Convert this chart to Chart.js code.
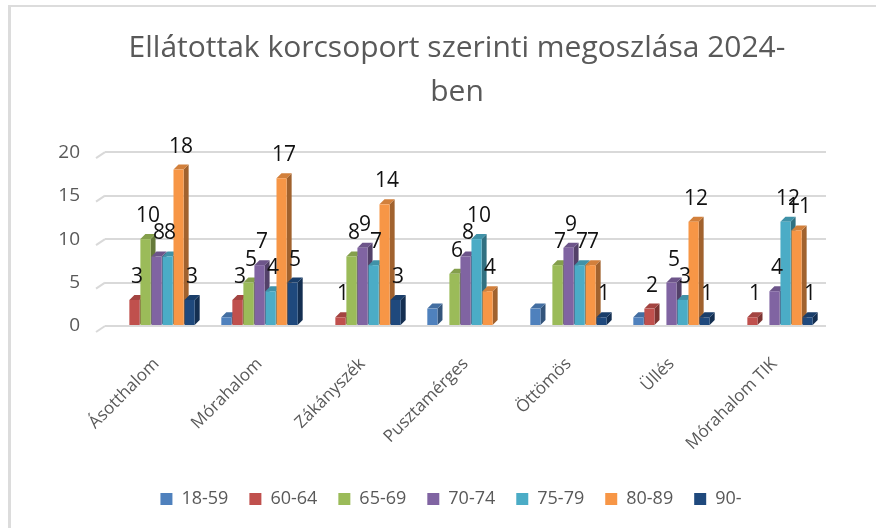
<!DOCTYPE html>
<html><head><meta charset="utf-8">
<script src="https://cdn.jsdelivr.net/npm/chart.js@4/dist/chart.umd.min.js"></script>
<style>
html,body{margin:0;padding:0;background:#fff;}
#wrap{position:relative;width:876px;height:528px;overflow:hidden;}
canvas{position:absolute;left:0;top:0;}
#frameTop{position:absolute;left:8px;top:5px;width:868px;height:2px;background:#dcdcdc;}
#frameLeft{position:absolute;left:8px;top:5px;width:3px;height:523px;background:#dcdcdc;}
</style></head><body>
<div id="wrap"><canvas id="c" width="876" height="528"></canvas><div id="frameTop"></div><div id="frameLeft"></div></div>
<script>
const categories = ['Ásotthalom','Mórahalom','Zákányszék','Pusztamérges','Öttömös','Üllés','Mórahalom TIK'];
const seriesNames = ['18-59','60-64','65-69','70-74','75-79','80-89','90-'];
const s18_59 = [0,1,0,2,2,1,0];
const s60_64 = [3,3,1,0,0,2,1];
const s65_69 = [10,5,8,6,7,0,0];
const s70_74 = [8,7,9,8,9,5,4];
const s75_79 = [8,4,7,10,7,3,12];
const s80_89 = [18,17,14,4,7,12,11];
const s90 = [3,5,3,0,1,1,1];
const yTicks = [0,5,10,15,20];
const labeledSeries = ['60-64','65-69','70-74','75-79','80-89','90-'];

const seriesValues = [s18_59,s60_64,s65_69,s70_74,s75_79,s80_89,s90];
const colors = ['#4F81BD','#C0504D','#9BBB59','#8064A2','#4BACC6','#F79646','#1F497D'];

function shade(hex, f){
  const n = parseInt(hex.slice(1),16);
  let r=(n>>16)&255,g=(n>>8)&255,b=n&255;
  const t = f<0?0:255, p=Math.abs(f);
  r=Math.round((t-r)*p+r); g=Math.round((t-g)*p+g); b=Math.round((t-b)*p+b);
  return 'rgb('+r+','+g+','+b+')';
}

const DEP = 5;
const bar3d = {
  id:'bar3d',
  afterLayout(chart){
    if (chart.titleBlock){ chart.titleBlock.left = 88; chart.titleBlock.right = 826; }
    if (chart.legend){ chart.legend.left = 76; chart.legend.right = 826; }
  },
  beforeDatasetsDraw(chart){
    const ctx = chart.ctx, area = chart.chartArea, ys = chart.scales.y;
    ctx.save();
    ctx.strokeStyle = '#d9d9d9'; ctx.lineWidth = 2;
    yTicks.forEach(t=>{
      const yy = ys.getPixelForValue(t);
      ctx.beginPath(); ctx.moveTo(area.left, yy); ctx.lineTo(area.left-9, yy+6); ctx.stroke();
    });
    const metas = chart.data.datasets.map((d,i)=>chart.getDatasetMeta(i));
    for (let c=0;c<chart.data.labels.length;c++){
      for (let d=0; d<metas.length; d++){
        const v = chart.data.datasets[d].data[c];
        if (!v) continue;
        const el = metas[d].data[c];
        const p = el.getProps(['x','y','base','width'], true);
        const L = p.x - p.width/2, R = p.x + p.width/2, y = p.y, base = p.base;
        const col = chart.data.datasets[d].backgroundColor;
        ctx.fillStyle = shade(col,-0.35);
        ctx.beginPath(); ctx.moveTo(R,y); ctx.lineTo(R+DEP,y-DEP); ctx.lineTo(R+DEP,base-DEP); ctx.lineTo(R,base); ctx.closePath(); ctx.fill();
        ctx.fillStyle = shade(col,-0.15);
        ctx.beginPath(); ctx.moveTo(L,y); ctx.lineTo(L+DEP,y-DEP); ctx.lineTo(R+DEP,y-DEP); ctx.lineTo(R,y); ctx.closePath(); ctx.fill();
        ctx.fillStyle = col;
        ctx.fillRect(L, y, p.width, base-y);
      }
    }
    ctx.restore();
    return false;
  },
  afterDraw(chart){
    const ctx = chart.ctx;
    ctx.save();
    ctx.fillStyle = '#111';
    ctx.font = '21px "Open Sans"';
    ctx.textAlign = 'center'; ctx.textBaseline = 'middle';
    chart.data.datasets.forEach((ds,d)=>{
      if (!labeledSeries.includes(ds.label)) return;
      const meta = chart.getDatasetMeta(d);
      ds.data.forEach((v,c)=>{
        if (!v) return;
        const el = meta.data[c];
        ctx.fillText(String(v), el.x + DEP/2, el.y - 23);
      });
    });
    ctx.restore();
  }
};

new Chart(document.getElementById('c'), {
  type:'bar',
  data:{
    labels: categories,
    datasets: seriesNames.map((n,i)=>({label:n, data:seriesValues[i], backgroundColor:colors[i], borderWidth:0}))
  },
  options:{
    responsive:false, animation:false,
    datasets:{bar:{categoryPercentage:0.75, barPercentage:0.92}},
    layout:{padding:{left:0,right:50,top:0,bottom:10}},
    plugins:{
      title:{display:true, text:['Ellátottak korcsoport szerinti megoszlása 2024-','ben'], color:'#595959',
        font:{family:'Open Sans', size:30, weight:'normal', lineHeight:1.47}, padding:{top:26,bottom:38}},
      legend:{position:'bottom', labels:{boxWidth:12, boxHeight:12, color:'#595959', font:{family:'Open Sans', size:18}, padding:21}},
      tooltip:{enabled:false}
    },
    scales:{
      x:{grid:{display:false}, border:{display:false},
        ticks:{color:'#595959', font:{family:'Open Sans', size:17}, maxRotation:45, minRotation:45, padding:20},
        afterFit(s){ s.height = 143; }},
      y:{min:0, max:20, afterBuildTicks(s){ s.ticks = yTicks.map(v=>({value:v})); },
        ticks:{color:'#595959', font:{family:'Open Sans', size:19}, padding:25},
        grid:{color:'#d9d9d9', lineWidth:2, drawTicks:false}, border:{display:false},
        afterFit(s){ s.width = 105; }}
    }
  },
  plugins:[bar3d]
});
</script>
</body></html>
